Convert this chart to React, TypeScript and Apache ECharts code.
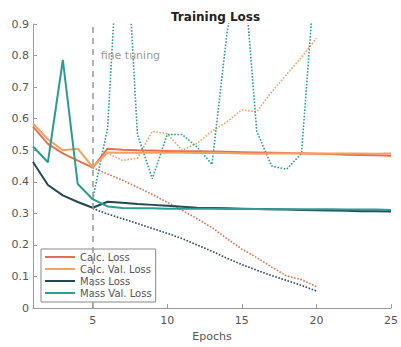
import React, { useEffect, useRef } from "react";
import * as echarts from "echarts";

// Epochs
const epochsFull = [1, 2, 3, 4, 5, 6, 7, 8, 9, 10, 11, 12, 13, 14, 15, 16, 17, 18, 19, 20, 21, 22, 23, 24, 25];
const epochsFine = [5, 6, 7, 8, 9, 10, 11, 12, 13, 14, 15, 16, 17, 18, 19, 20];

// Solid runs (epochs 1-25)
const calcLoss = [0.575, 0.52, 0.49, 0.467, 0.445, 0.505, 0.502, 0.5, 0.499, 0.498, 0.497, 0.497, 0.496, 0.495, 0.494, 0.493, 0.492, 0.491, 0.49, 0.489, 0.488, 0.486, 0.485, 0.484, 0.483];
const calcValLoss = [0.585, 0.535, 0.5, 0.505, 0.447, 0.493, 0.492, 0.492, 0.493, 0.492, 0.492, 0.491, 0.492, 0.491, 0.49, 0.489, 0.49, 0.49, 0.491, 0.49, 0.49, 0.49, 0.49, 0.489, 0.49];
const massLoss = [0.463, 0.39, 0.357, 0.336, 0.318, 0.337, 0.334, 0.33, 0.327, 0.324, 0.321, 0.318, 0.317, 0.316, 0.315, 0.314, 0.313, 0.312, 0.311, 0.31, 0.309, 0.308, 0.307, 0.307, 0.306];
const massValLoss = [0.512, 0.462, 0.786, 0.393, 0.345, 0.322, 0.317, 0.316, 0.316, 0.315, 0.315, 0.315, 0.315, 0.314, 0.314, 0.314, 0.313, 0.313, 0.313, 0.313, 0.313, 0.312, 0.312, 0.312, 0.311];

// Fine tuning runs (dotted, epochs 5-20)
const calcLossFt = [0.445, 0.425, 0.405, 0.383, 0.36, 0.335, 0.31, 0.283, 0.255, 0.22, 0.187, 0.16, 0.13, 0.102, 0.09, 0.068];
const calcValLossFt = [0.447, 0.49, 0.468, 0.475, 0.56, 0.552, 0.5, 0.522, 0.56, 0.59, 0.628, 0.622, 0.685, 0.74, 0.795, 0.855];
const massLossFt = [0.316, 0.298, 0.283, 0.268, 0.252, 0.237, 0.22, 0.2, 0.18, 0.158, 0.138, 0.12, 0.103, 0.088, 0.072, 0.054];
const massValLossFt = [0.345, 0.57, 1.4, 0.55, 0.41, 0.55, 0.55, 0.51, 0.455, 0.87, 1.15, 0.56, 0.45, 0.44, 0.49, 1.12];

const xTickValues = [5, 10, 15, 20, 25];
const seriesNames = ["Calc. Loss", "Calc. Val. Loss", "Mass Loss", "Mass Val. Loss"];
const colors = ["#e76f51", "#f4a261", "#264653", "#2a9d8f"];

const FONT = "DejaVu Sans";

function pairs(xs: number[], ys: number[]) {
  return xs.map((x, i) => [x, ys[i]]);
}

export default function App() {
  const ref = useRef<HTMLDivElement>(null);
  useEffect(() => {
    if (!ref.current) return;
    const chart = echarts.init(ref.current, undefined, { renderer: "svg" });
    const solid = [calcLoss, calcValLoss, massLoss, massValLoss];
    const dotted = [calcLossFt, calcValLossFt, massLossFt, massValLossFt];
    const series: any[] = [];
    dotted.forEach((d, i) => {
      series.push({
        name: seriesNames[i] + " (fine tuning)",
        type: "line",
        data: pairs(epochsFine, d),
        symbol: "none",
        clip: true,
        z: 2,
        lineStyle: { color: colors[i], width: 1.6, type: [1.6, 1.6] },
        itemStyle: { color: colors[i] },
      });
    });
    solid.forEach((d, i) => {
      const s: any = {
        name: seriesNames[i],
        type: "line",
        data: pairs(epochsFull, d),
        symbol: "none",
        clip: true,
        z: 3,
        lineStyle: { color: colors[i], width: 2 },
        itemStyle: { color: colors[i] },
      };
      if (i === 0) {
        s.markLine = {
          silent: true,
          symbol: ["none", "none"],
          label: { show: false },
          lineStyle: { color: "#999", type: [6, 5], width: 1.5 },
          data: [{ xAxis: 5 }],
        };
        s.markPoint = {
          silent: true,
          symbol: "circle",
          symbolSize: 0,
          data: [{ coord: [5, 0.8] }],
          label: {
            show: true,
            position: "right",
            distance: 8,
            formatter: "fine tuning",
            color: "#999",
            fontSize: 11,
            fontFamily: FONT,
          },
        };
      }
      series.push(s);
    });

    chart.setOption({
      animation: false,
      title: {
        text: "Training Loss",
        left: 166,
        top: 6,
        textStyle: { fontFamily: FONT, fontSize: 12, fontWeight: "bold", color: "#222" },
      },
      legend: {
        data: seriesNames,
        icon: "rect",
        orient: "vertical",
        left: 41,
        top: 249,
        padding: [2, 4, 3, 4],
        itemGap: 0,
        itemWidth: 30,
        itemHeight: 2,
        borderColor: "#888",
        borderWidth: 1,
        backgroundColor: "#fff",
        textStyle: { fontFamily: FONT, fontSize: 10, color: "#555", lineHeight: 12 },
      },
      grid: { left: 33, right: 5, top: 24, bottom: 37, containLabel: false },
      xAxis: {
        type: "value",
        min: 1,
        max: 25,
        name: "Epochs",
        nameLocation: "middle",
        nameGap: 22,
        nameTextStyle: { fontFamily: FONT, fontSize: 11, color: "#555" },
        splitLine: { show: false },
        axisLine: { lineStyle: { color: "#999", width: 1 } },
        axisTick: { inside: true, length: 4, customValues: xTickValues, lineStyle: { color: "#999" } },
        axisLabel: { customValues: xTickValues, margin: 7, fontFamily: FONT, fontSize: 11, color: "#555" },
      },
      yAxis: {
        type: "value",
        min: 0,
        max: 0.9,
        interval: 0.1,
        splitLine: { show: false },
        axisLine: { show: true, lineStyle: { color: "#999", width: 1 } },
        axisTick: { show: true, inside: true, length: 4, lineStyle: { color: "#999" } },
        axisLabel: { margin: 4, fontFamily: FONT, fontSize: 11, color: "#555" },
      },
      series,
    });
    return () => chart.dispose();
  }, []);
  return (
    <div
      ref={ref}
      style={{ position: "absolute", left: 0, top: 0, width: 401, height: 347, background: "#fff" }}
    />
  );
}
